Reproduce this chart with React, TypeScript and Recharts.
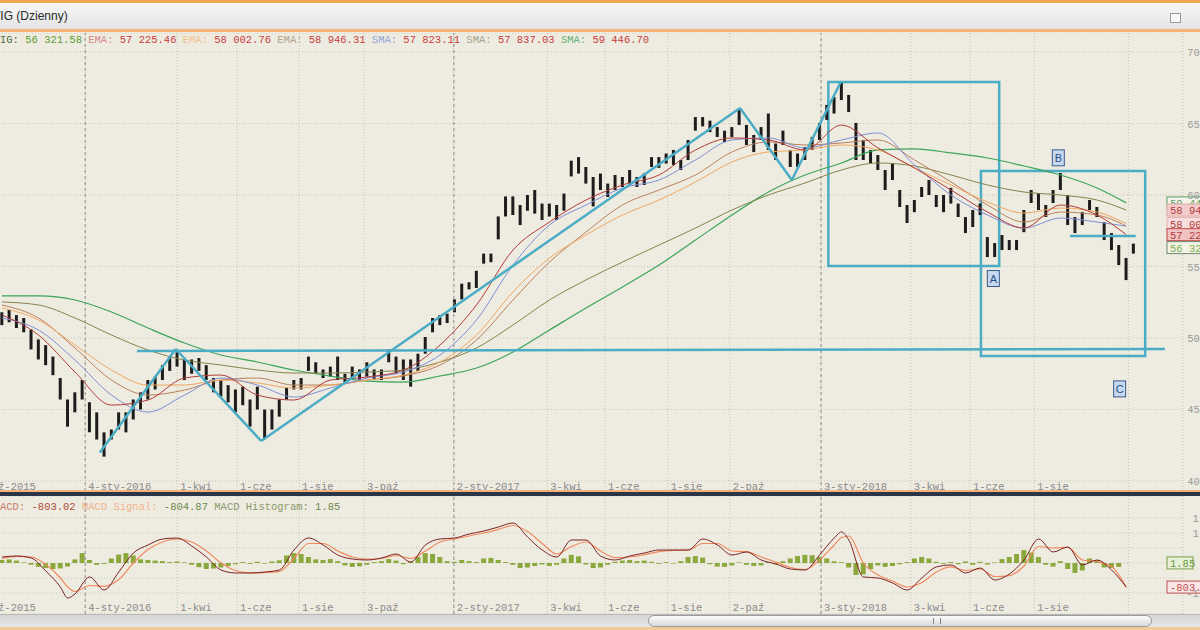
import React from "react";
import {
  ComposedChart,
  Bar,
  Line,
  XAxis,
  YAxis,
  CartesianGrid,
  ReferenceLine,
  ReferenceArea,
  ReferenceDot,
} from "recharts";

// WIG daily chart, sampled per week (values in thousands of points)
const priceHigh = [
  51.8, 51.96, 51.6, 51.4, 50.6, 49.9, 49.5, 48.7, 47.2, 45.7,
  46.2, 47.06, 45.5, 44.8, 43.4, 43.6, 44.8, 44.8, 45.7, 46.2,
  47.06, 47.3, 48.1, 48.7, 49.0, 48.5, 48.5, 48.6, 48.1, 47.2,
  47.06, 46.7, 46.4, 46.6, 45.7, 46.6, 45.0, 45.0, 45.7, 46.5,
  47.06, 47.2, 48.7, 48.3, 47.8, 48.0, 48.7, 47.5, 48.0, 47.8,
  48.3, 47.8, 47.8, 49.2, 48.7, 48.5, 48.5, 48.9, 50.07, 51.4,
  51.6, 51.7, 52.7, 53.8, 53.9, 54.7, 55.9, 55.9, 58.5, 59.9,
  59.9, 59.3, 60.0, 60.35, 59.4, 59.4, 59.3, 60.1, 62.4, 62.65,
  61.96, 61.26, 61.5, 60.8, 61.4, 61.26, 61.75, 61.26, 61.5, 62.65,
  62.65, 62.9, 63.15, 62.45, 63.85, 65.45, 65.45, 65.2, 64.75, 64.5,
  64.75, 65.94, 64.9, 64.2, 64.75, 65.7, 63.6, 64.5, 63.15, 62.9,
  63.36, 64.06, 65.04, 66.3, 66.85, 67.83, 67.0, 65.04, 63.85, 63.15,
  62.8, 61.75, 62.24, 60.35, 59.3, 59.65, 60.56, 61.05, 60.0, 60.0,
  60.5, 59.4, 58.46, 58.95, 59.4, 57.06, 56.64, 57.2, 56.85, 56.85,
  58.95, 60.35, 60.14, 59.3, 60.35, 61.54, 60.0, 58.46, 58.8, 59.65,
  59.16, 58.1, 57.34, 56.5, 55.6, 56.6,
];
const priceLow = [
  50.9, 51.1, 50.7, 50.4, 49.2, 48.5, 48.1, 47.4, 45.7, 43.8,
  44.8, 45.7, 43.4, 42.9, 41.7, 42.9, 43.6, 43.4, 44.3, 45.0,
  45.7, 46.4, 47.06, 47.7, 48.0, 47.06, 47.5, 47.7, 47.06, 46.2,
  45.9, 45.5, 44.8, 45.3, 43.8, 45.0, 43.0, 43.6, 44.5, 45.7,
  46.4, 46.4, 47.7, 47.5, 47.2, 47.3, 47.06, 46.9, 47.06, 47.06,
  47.3, 47.06, 47.06, 48.3, 47.5, 47.06, 46.6, 47.7, 48.9, 50.4,
  50.9, 51.05, 51.8, 52.7, 53.4, 53.5, 55.2, 55.3, 56.9, 58.5,
  58.6, 57.9, 58.9, 58.7, 58.25, 58.5, 58.25, 58.9, 61.3, 61.5,
  60.8, 59.2, 60.35, 59.86, 60.35, 60.56, 60.8, 60.56, 60.7, 61.96,
  61.9, 62.2, 62.1, 61.75, 62.45, 64.5, 64.8, 64.4, 64.06, 63.7,
  64.06, 64.9, 63.5, 63.0, 63.85, 63.15, 62.45, 63.5, 61.96, 61.96,
  62.45, 63.15, 63.85, 65.25, 65.7, 66.64, 65.8, 62.45, 62.45, 62.2,
  61.75, 60.35, 61.05, 59.16, 58.04, 58.8, 59.86, 60.0, 59.16, 58.8,
  59.4, 58.46, 57.34, 57.76, 58.6, 55.66, 55.66, 56.15, 56.15, 56.15,
  57.4, 59.44, 58.95, 58.46, 59.44, 60.35, 57.9, 57.34, 57.9, 58.95,
  58.46, 56.85, 56.15, 55.1, 54.05, 55.9,
];

// moving averages, read every 5 weeks
const maWeeks = [0, 5, 10, 15, 20, 25, 30, 35, 40, 45, 50, 55, 60, 65, 70, 75, 80, 85, 90, 95, 100, 105, 110, 115, 120, 125, 130, 135, 140, 145, 150, 154];
const ema1 = [51.61, 50.21, 47.62, 45.31, 45.66, 47.2, 47.41, 46.01, 45.66, 47.06, 47.27, 47.76, 49.51, 52.31, 56.15, 58.11, 59.65, 60.7, 61.4, 63.15, 63.99, 63.85, 63.15, 64.89, 63.29, 61.89, 60.35, 58.81, 57.69, 59.3, 58.6, 57.23];
const ema2 = [52.1, 51.26, 49.51, 47.76, 46.71, 46.71, 47.06, 46.85, 46.5, 46.71, 47.06, 47.41, 48.32, 50.21, 53.22, 55.59, 57.2, 58.6, 59.65, 60.91, 62.31, 63.01, 63.15, 63.5, 63.15, 61.89, 60.7, 59.51, 58.74, 59.09, 58.81, 58.0];
const ema3 = [52.52, 52.31, 51.4, 50.21, 49.16, 48.46, 48.11, 47.76, 47.55, 47.55, 47.62, 47.76, 48.32, 49.3, 50.91, 52.66, 54.06, 55.31, 56.5, 57.69, 58.95, 60.0, 60.84, 61.75, 62.24, 62.03, 61.4, 60.7, 60.21, 60.0, 59.65, 58.95];
const sma1 = [51.4, 50.56, 48.46, 46.01, 44.82, 46.01, 47.2, 46.71, 45.87, 46.5, 47.2, 47.62, 48.81, 51.26, 55.1, 57.9, 59.3, 60.49, 61.05, 62.45, 63.85, 63.99, 63.29, 63.85, 64.34, 62.1, 60.0, 58.6, 57.69, 58.39, 58.11, 57.82];
const sma2 = [52.31, 51.4, 49.3, 47.06, 46.01, 46.36, 47.06, 47.2, 46.71, 46.71, 47.06, 47.34, 48.11, 49.86, 52.66, 55.31, 57.41, 59.3, 60.35, 61.4, 63.01, 63.71, 63.5, 63.64, 63.85, 62.45, 60.91, 59.3, 58.11, 58.81, 58.6, 57.84];
const sma3 = [52.94, 52.94, 52.66, 51.82, 50.7, 49.65, 48.81, 48.32, 47.76, 47.34, 46.99, 46.92, 47.34, 47.9, 49.02, 50.56, 52.1, 53.57, 55.1, 56.85, 58.6, 60.21, 61.4, 62.24, 63.15, 63.22, 62.94, 62.59, 62.03, 61.4, 60.49, 59.45];

// MACD panel
const macdWeeks = [0, 2, 4, 6, 8, 9, 10, 12, 14, 16, 18, 20, 22, 24, 26, 28, 30, 32, 34, 36, 38, 40, 42, 44, 46, 48, 50, 52, 54, 56, 58, 60, 62, 64, 66, 68, 70, 72, 74, 76, 78, 80, 82, 84, 86, 88, 90, 92, 94, 96, 98, 100, 102, 104, 106, 108, 110, 112, 114, 115, 116, 118, 120, 122, 124, 126, 128, 130, 132, 134, 136, 138, 140, 142, 144, 146, 148, 150, 152, 154];
const macdLine = [200, 233, 167, -267, -800, -1166, -1033, -466, -900, -300, 333, 600, 800, 833, 566, 200, -233, -333, -333, -300, -233, 433, 833, 600, 266, 133, 100, 167, 300, 33, 600, 800, 833, 966, 1066, 1200, 1333, 866, 433, 200, 766, 766, 233, 100, 233, 333, 433, 433, 433, 800, 600, 266, 366, 100, -33, -200, -233, 266, 833, 1033, 766, -466, -500, -666, -900, -500, -133, -67, -333, -167, -566, -366, 100, 800, 366, 533, -67, 100, -233, -803];
const signalLine = [150, 220, 200, -50, -500, -800, -950, -750, -780, -550, 0, 450, 700, 800, 700, 400, 0, -250, -330, -320, -280, 150, 650, 650, 400, 200, 130, 150, 250, 150, 400, 700, 800, 900, 1000, 1120, 1250, 1050, 650, 300, 550, 700, 400, 180, 200, 280, 380, 420, 430, 650, 650, 400, 380, 200, 30, -150, -220, 100, 600, 850, 900, 0, -400, -600, -800, -650, -300, -130, -250, -200, -450, -420, -100, 550, 500, 520, 100, 50, -120, -805];
const histogram = [
  100, 120, 80, 20, -60, -130, -170, -200, -180, -120,
  120, 330, 100, -60, -30, 150, 280, 330, 250, 120,
  100, 80, 60, 30, 50, 20, -60, -140, -200, -180,
  -150, -100, -40, 30, -30, 40, -20, 50, 90, 250,
  330, 300, 200, 120, 100, 130, 60, -80, -130, -110,
  -60, 30, 60, 130, 80, -40, 40, 200, 330, 300,
  200, 60, 40, 100, 60, 30, 150, 170, 100, 30,
  -60, -170, -150, -100, -50, -100, -60, 150, 270, 220,
  -50, -170, -150, -60, 40, 80, 100, 60, 80, 40,
  -30, 30, -20, 60, 200, 230, 180, -40, -120, -130,
  -80, 20, -60, -100, -80, 30, -40, 60, 150, 230,
  270, 260, 200, 150, 60, 30, -150, -400, -380, -200,
  -80, -130, -100, -40, 30, 150, 200, 150, 40, -30,
  30, -40, 50, -60, 40, -50, 20, 130, 200, 300,
  430, 350, 200, -60, -120, 60, -200, -330, -250, 150,
  100, -150, -170, -130, 2,
];

// time axis (week positions of the date labels)
const tickWeeks = [-4.4, 11.4, 24.0, 32.2, 40.7, 49.6, 61.9, 74.7, 82.6, 91.2, 99.7, 112.2, 124.5, 132.6, 141.4, 154.3];
const tickLabels = ["1-paź-2015", "4-sty-2016", "1-kwi", "1-cze", "1-sie", "3-paź", "2-sty-2017", "3-kwi", "1-cze", "1-sie", "2-paź", "3-sty-2018", "3-kwi", "1-cze", "1-sie", ""];
const yearWeeks = [11.4, 61.9, 112.2];
const priceTicks = [40, 45, 50, 55, 60, 65, 70];
const macdTicks = [-1000, -500, 0, 500, 1000, 1500];

// legend
const legendNames = ["WIG", "EMA", "EMA", "EMA", "SMA", "SMA", "SMA"];
const legendValues = [56321.58, 57225.46, 58002.76, 58946.31, 57823.11, 57837.03, 59446.7];
const legendNameColors = ["#4d6b3a", "#d98c8c", "#f2bf8c", "#b3a48a", "#8fa3d6", "#a3a38a", "#66b273"];

// drawing-tool annotations (week, price)
const zigzag = [[13.4, 42.0], [23.8, 49.23], [35.5, 42.8], [101.1, 66.08], [108.2, 61.05], [114.9, 67.9]];
const flatLines = [[[18.5, 49.09], [159.3, 49.23]], [[146.3, 57.13], [155.3, 57.13]]];
const boxes = [
  { x1: 113.2, x2: 136.6, y1: 55.04, y2: 67.9 },
  { x1: 134.1, x2: 156.6, y1: 48.74, y2: 61.68 },
];
const waveMarks = [
  { t: "A", w: 135.8, v: 54.16 },
  { t: "B", w: 144.7, v: 62.6 },
  { t: "C", w: 153.1, v: 46.44 },
];

const xDomain = [-5.75, 161.78];
const MONO = "'Liberation Mono', 'DejaVu Sans Mono', monospace";
const CYAN = "#4bacc6";
const RED = "#c83c3c";

const fmt = (n: number, dec: number) => {
  const s = Math.abs(n).toFixed(dec);
  const [a, b] = s.split(".");
  const g = a.replace(/\B(?=(\d{3})+(?!\d))/g, " ");
  return (n < 0 ? "-" : "") + g + (b ? "." + b : "");
};

const rows = priceHigh.map((hi, w) => {
  const k = maWeeks.indexOf(w);
  return {
    w,
    range: [priceLow[w], hi],
    ema1: k >= 0 ? ema1[k] : null,
    ema2: k >= 0 ? ema2[k] : null,
    ema3: k >= 0 ? ema3[k] : null,
    sma1: k >= 0 ? sma1[k] : null,
    sma2: k >= 0 ? sma2[k] : null,
    sma3: k >= 0 ? sma3[k] : null,
  };
});

const macdRows = histogram.map((h, w) => {
  const k = macdWeeks.indexOf(w);
  return {
    w,
    hist: h,
    macd: k >= 0 ? macdLine[k] : null,
    signal: k >= 0 ? signalLine[k] : null,
  };
});

const makeXTick = (lift: number) => (props: any) => {
  const { x, y, payload } = props;
  const label = tickLabels[tickWeeks.indexOf(payload.value)];
  return (
    <text x={x + 3} y={y - lift} fontSize={10.5} fontFamily={MONO} fill="#8a8a8a">
      {label}
    </text>
  );
};

const PriceTick = (props: any) => (
  <text x={props.x + 42} y={props.y + 4} fontSize={10.5} fontFamily={MONO} fill="#9a9a9a" textAnchor="end">
    {props.payload.value} 000
  </text>
);

const MacdTick = (props: any) => (
  <text x={props.x + 41} y={props.y + 4} fontSize={10.5} fontFamily={MONO} fill="#9a9a9a" textAnchor="end">
    {fmt(props.payload.value, 0)}
  </text>
);

const valueTag = (text: string, fill: string, stroke: string, color: string, w = 40) => (p: any) => (
  <g>
    <rect x={p.cx - 16} y={p.cy - 6} width={w} height={12} fill={fill} stroke={stroke} strokeWidth={1} />
    <text x={p.cx - 13} y={p.cy + 4} fontSize={10.5} fontFamily={MONO} fill={color}>
      {text}
    </text>
  </g>
);

const markShape = (t: string) => (p: any) => (
  <g>
    <rect x={p.cx - 6} y={p.cy - 8} width={12} height={16} fill="#c6d9f0" stroke="#3b5b8c" strokeWidth={1} />
    <text x={p.cx} y={p.cy + 4} fontSize={11} fontFamily="'Liberation Sans', Arial" fill="#2d4f8a" textAnchor="middle">
      {t}
    </text>
  </g>
);

function PriceChart() {
  return (
    <ComposedChart width={1240} height={472} data={rows} margin={{ top: 0, right: 0, bottom: 0, left: 0 }}>
      <CartesianGrid stroke="#c7c4b8" strokeDasharray="1 2" />
      <XAxis
        dataKey="w"
        type="number"
        domain={xDomain}
        ticks={tickWeeks}
        interval={0}
        allowDataOverflow
        height={14}
        tickSize={0}
        tickMargin={0}
        tickLine={false}
        axisLine={false}
        tick={makeXTick(1)}
      />
      <YAxis
        orientation="right"
        type="number"
        domain={[39.3, 71.33]}
        ticks={priceTicks}
        interval={0}
        allowDataOverflow
        width={17}
        tickSize={0}
        tickMargin={0}
        tickLine={false}
        axisLine={false}
        tick={PriceTick}
      />
      {yearWeeks.map((w) => (
        <ReferenceLine key={w} x={w} stroke="#8d8d8d" strokeDasharray="3 3" />
      ))}
      <Line dataKey="sma3" stroke="#3aa55a" strokeWidth={1.2} dot={false} connectNulls type="monotone" isAnimationActive={false} />
      <Line dataKey="ema3" stroke="#85844c" strokeWidth={1} dot={false} connectNulls type="monotone" isAnimationActive={false} />
      <Line dataKey="sma2" stroke="#b9805a" strokeWidth={1} dot={false} connectNulls type="monotone" isAnimationActive={false} />
      <Line dataKey="ema2" stroke="#f2a65e" strokeWidth={1} dot={false} connectNulls type="monotone" isAnimationActive={false} />
      <Line dataKey="sma1" stroke="#7f8fd6" strokeWidth={1} dot={false} connectNulls type="monotone" isAnimationActive={false} />
      <Line dataKey="ema1" stroke="#b23c3a" strokeWidth={1} dot={false} connectNulls type="monotone" isAnimationActive={false} />
      <Bar dataKey="range" fill="#1c1c1c" barSize={3} isAnimationActive={false} />
      {zigzag.slice(1).map((p, k) => (
        <ReferenceLine
          key={"z" + k}
          segment={[{ x: zigzag[k][0], y: zigzag[k][1] }, { x: p[0], y: p[1] }]}
          stroke={CYAN}
          strokeWidth={2.5}
        />
      ))}
      {flatLines.map((s, k) => (
        <ReferenceLine
          key={"f" + k}
          segment={[{ x: s[0][0], y: s[0][1] }, { x: s[1][0], y: s[1][1] }]}
          stroke={CYAN}
          strokeWidth={2.5}
        />
      ))}
      {boxes.map((b, k) => (
        <ReferenceArea key={"b" + k} x1={b.x1} x2={b.x2} y1={b.y1} y2={b.y2} fill="none" stroke={CYAN} strokeWidth={2.5} />
      ))}
      {waveMarks.map((m) => (
        <ReferenceDot key={m.t} x={m.w} y={m.v} r={6} shape={markShape(m.t)} />
      ))}
      <ReferenceDot x={xDomain[1]} y={legendValues[6] / 1000} r={1} ifOverflow="visible" shape={valueTag(fmt(legendValues[6], 2), "#f4f4ea", "#5aa060", "#5aa060")} />
      <ReferenceDot x={xDomain[1]} y={legendValues[3] / 1000} r={1} ifOverflow="visible" shape={valueTag(fmt(legendValues[3], 2), "#f3cccc", "#e0a8a8", "#b03a3a")} />
      <ReferenceDot x={xDomain[1]} y={legendValues[2] / 1000} r={1} ifOverflow="visible" shape={valueTag(fmt(legendValues[2], 2), "#f7dede", "#e8b4b4", "#b03a3a")} />
      <ReferenceDot x={xDomain[1]} y={legendValues[1] / 1000} r={1} ifOverflow="visible" shape={valueTag(fmt(legendValues[1], 2), "#f2c2c2", "#c04848", "#b03a3a")} />
      <ReferenceDot x={xDomain[1]} y={legendValues[0] / 1000} r={1} ifOverflow="visible" shape={valueTag(fmt(legendValues[0], 2), "#f3f3e6", "#6f8a6f", "#7ab050")} />
    </ComposedChart>
  );
}

function MacdChart() {
  return (
    <ComposedChart width={1240} height={132} data={macdRows} margin={{ top: 0, right: 0, bottom: 0, left: 0 }}>
      <CartesianGrid stroke="#c7c4b8" strokeDasharray="1 2" />
      <XAxis
        dataKey="w"
        type="number"
        domain={xDomain}
        ticks={tickWeeks}
        interval={0}
        allowDataOverflow
        height={14}
        tickSize={0}
        tickMargin={0}
        tickLine={false}
        axisLine={false}
        tick={makeXTick(3)}
      />
      <YAxis
        orientation="right"
        type="number"
        domain={[-1700, 2233]}
        ticks={macdTicks}
        interval={0}
        allowDataOverflow
        width={17}
        tickSize={0}
        tickMargin={0}
        tickLine={false}
        axisLine={false}
        tick={MacdTick}
      />
      {yearWeeks.map((w) => (
        <ReferenceLine key={w} x={w} stroke="#8d8d8d" strokeDasharray="3 3" />
      ))}
      <Bar dataKey="hist" fill="#8aa83c" barSize={5} isAnimationActive={false} />
      <Line dataKey="signal" stroke="#f08a5e" strokeWidth={1.2} dot={false} connectNulls type="monotone" isAnimationActive={false} />
      <Line dataKey="macd" stroke="#7a2424" strokeWidth={1} dot={false} connectNulls type="monotone" isAnimationActive={false} />
      <ReferenceDot x={xDomain[1]} y={histogram[histogram.length - 1]} r={1} ifOverflow="visible" shape={valueTag("1.85", "#e8f0d8", "#7aa050", "#6a9a40", 26)} />
      <ReferenceDot x={xDomain[1]} y={macdLine[macdLine.length - 1]} r={1} ifOverflow="visible" shape={valueTag("-803.02", "#f8e6e6", "#c05050", "#c05050")} />
    </ComposedChart>
  );
}

export default function App() {
  return (
    <div
      style={{
        position: "absolute",
        left: 0,
        top: 0,
        width: 1200,
        height: 630,
        overflow: "hidden",
        background: "#eeebe1",
      }}
    >
      {/* window title */}
      <div style={{ position: "absolute", left: 0, top: 0, width: 1200, height: 3, background: "#f2a650" }} />
      <div
        style={{
          position: "absolute",
          left: 0,
          top: 3,
          width: 1200,
          height: 26,
          background: "linear-gradient(#f7f7f7, #e4e4e4)",
        }}
      >
        <span
          style={{
            position: "absolute",
            left: -11,
            top: 6,
            fontFamily: "'Liberation Sans', Arial",
            fontSize: 12,
            color: "#2a2a2a",
          }}
        >
          WIG (Dzienny)
        </span>
        <div style={{ position: "absolute", left: 1170, top: 10, width: 9, height: 8, border: "1px solid #9a9a9a", background: "#fafafa" }} />
      </div>
      <div style={{ position: "absolute", left: 0, top: 29, width: 1200, height: 3, background: "#f4b577" }} />

      <div style={{ position: "absolute", left: -40, top: 33 }}>
        <PriceChart />
      </div>
      <div
        style={{
          position: "absolute",
          left: -6.3,
          top: 34,
          fontFamily: MONO,
          fontSize: 10.5,
          whiteSpace: "pre",
        }}
      >
        {legendNames.map((n, k) => (
          <span key={k}>
            <span style={{ color: legendNameColors[k] }}>{(k ? " " : "") + n + ":"}</span>
            <span style={{ color: k ? RED : "#5a9e32" }}>{" " + fmt(legendValues[k], 2)}</span>
          </span>
        ))}
      </div>

      {/* panel separator */}
      <div style={{ position: "absolute", left: 0, top: 490, width: 1200, height: 2, background: "#f4b27a" }} />
      <div style={{ position: "absolute", left: 0, top: 492, width: 1200, height: 4, background: "#2b3547" }} />

      <div style={{ position: "absolute", left: -40, top: 496 }}>
        <MacdChart />
      </div>
      <div
        style={{
          position: "absolute",
          left: -6.3,
          top: 501,
          fontFamily: MONO,
          fontSize: 10.5,
          whiteSpace: "pre",
        }}
      >
        <span style={{ color: "#c87a6a" }}>MACD:</span>
        <span style={{ color: "#b04a3a" }}> {fmt(macdLine[macdLine.length - 1] - 0.02, 2)}</span>
        <span style={{ color: "#f2b48c" }}> MACD Signal:</span>
        <span style={{ color: "#6b8b4b" }}> -804.87</span>
        <span style={{ color: "#8a9a6a" }}> MACD Histogram:</span>
        <span style={{ color: "#6b8b4b" }}> 1.85</span>
      </div>

      {/* scroll bar */}
      <div
        style={{
          position: "absolute",
          left: 0,
          top: 614,
          width: 1200,
          height: 13,
          background: "linear-gradient(#d6d6d6, #e8e8e8)",
          borderTop: "1px solid #b8b8b8",
        }}
      />
      <div
        style={{
          position: "absolute",
          left: 648,
          top: 615,
          width: 502,
          height: 10,
          borderRadius: 6,
          border: "1px solid #9c9c9c",
          background: "linear-gradient(#fbfbfb, #d9d9d9)",
        }}
      >
        <div style={{ position: "absolute", left: 284, top: 2, width: 6, height: 6, borderLeft: "1px solid #888", borderRight: "1px solid #888" }} />
      </div>
      <div style={{ position: "absolute", left: 0, top: 627, width: 1200, height: 3, background: "#f3c89a" }} />
    </div>
  );
}
